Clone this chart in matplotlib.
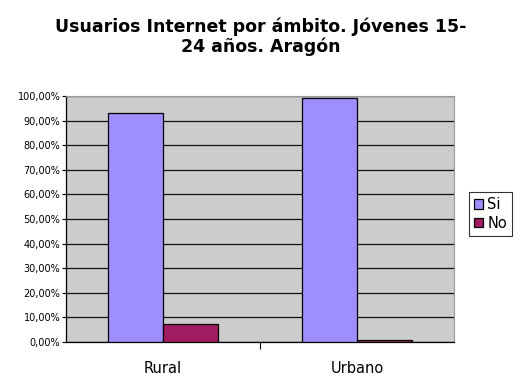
"""Bar chart: internet users by area, young people 15-24, Aragón."""
import matplotlib
matplotlib.use("Agg")
import matplotlib.pyplot as plt
import numpy as np
from matplotlib.ticker import FuncFormatter, MultipleLocator

categories = ["Rural", "Urbano"]
series = ["Si", "No"]
si = [93.0, 99.0]
no = [7.2, 1.0]
colors = ["#9E8FFF", "#A01C60"]

fig = plt.figure(figsize=(5.21, 3.78), dpi=100)
ax = fig.add_axes([66 / 521, 1 - 342 / 378, 388 / 521, 246 / 378])
ax.set_facecolor("#CCCCCC")

x = np.arange(len(categories))
w = 0.285
for i, (vals, name) in enumerate(zip([si, no], series)):
    ax.bar(x - w / 2 + i * w, vals, width=w, color=colors[i],
           edgecolor="black", linewidth=0.9, label=name, zorder=3)

ax.set_xlim(-0.5, 1.5)
ax.set_ylim(0, 100)
ax.yaxis.set_major_locator(MultipleLocator(10))
ax.yaxis.set_major_formatter(FuncFormatter(lambda v, _: f"{v:.2f}%".replace(".", ",")))
ax.grid(axis="y", color="#111111", linewidth=0.9, zorder=1)
ax.tick_params(axis="y", labelsize=7, length=3, width=0.8, pad=1)

ax.set_xticks(x)
ax.set_xticklabels(categories, fontsize=10.5)
ax.tick_params(axis="x", length=0, pad=14)
ax.set_xticks([0.5], minor=True)
ax.tick_params(axis="x", which="minor", length=5, width=0.8)

for side in ["top", "right"]:
    ax.spines[side].set_color("#999999")
for side in ["left", "bottom"]:
    ax.spines[side].set_color("black")
    ax.spines[side].set_linewidth(0.9)

fig.text(0.5, 1 - 37 / 378, "Usuarios Internet por ámbito. Jóvenes 15-\n24 años. Aragón",
         ha="center", va="center", fontsize=12.5, fontweight="bold", linespacing=1.1)

leg = fig.legend(loc="upper left", bbox_to_anchor=(469 / 521, 1 - 192 / 378),
                 frameon=True, fancybox=False, fontsize=10.5, handlelength=0.6,
                 handleheight=0.6, handletextpad=0.3, borderpad=0.35,
                 labelspacing=0.25, borderaxespad=0)
leg.get_frame().set_edgecolor("black")
leg.get_frame().set_linewidth(0.8)

fig.savefig("out.png", dpi=100)
